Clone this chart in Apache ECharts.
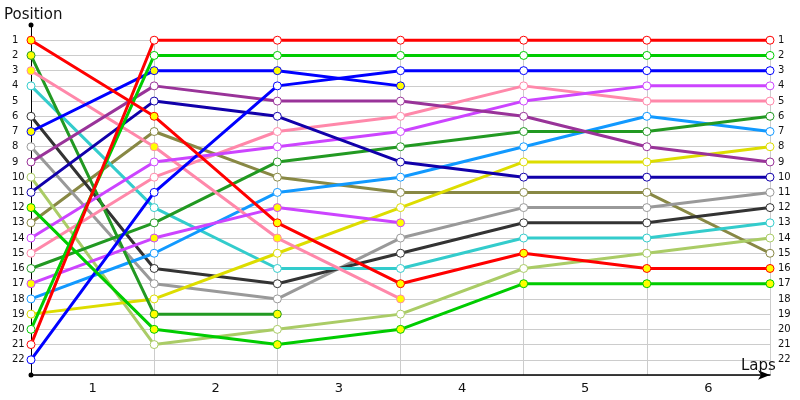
<!DOCTYPE html>
<html>
<head>
<meta charset="utf-8">
<script src="https://cdn.jsdelivr.net/npm/echarts@6/dist/echarts.min.js"></script>
<style>html,body{margin:0;padding:0;background:#fff}#c{width:800px;height:400px}</style>
</head>
<body>
<div id="c"></div>
<script>
// Lap labels (category bands) and position tick labels
const lapLabels = ['1', '2', '3', '4', '5', '6'];
const positionTicks = ['1','2','3','4','5','6','7','8','9','10','11','12','13','14','15','16','17','18','19','20','21','22'];

// Position of each car at lap 0..6 (index = lap)
const redA      = [1, 6, 13, 17, 15, 16, 16];
const redB      = [21, 1, 1, 1, 1, 1, 1];
const greenA    = [20, 2, 2, 2, 2, 2, 2];
const greenB    = [12, 20, 21, 20, 17, 17, 17];
const blueA     = [7, 3, 3, 4];
const blueB     = [22, 11, 4, 3, 3, 3, 3];
const navy      = [11, 5, 6, 9, 10, 10, 10];
const purple    = [9, 4, 5, 5, 6, 8, 9];
const violetA   = [14, 9, 8, 7, 5, 4, 4];
const violetB   = [17, 14, 12, 13];
const pinkA     = [3, 8, 14, 18];
const pinkB     = [15, 10, 7, 6, 4, 5, 5];
const forestA   = [2, 19, 19];
const forestB   = [16, 13, 9, 8, 7, 7, 6];
const lightBlue = [18, 15, 11, 10, 8, 6, 7];
const turquoise = [4, 12, 16, 16, 14, 14, 13];
const yellow    = [19, 18, 15, 12, 9, 9, 8];
const olive     = [13, 7, 10, 11, 11, 11, 15];
const gray      = [8, 17, 18, 14, 12, 12, 11];
const darkGray  = [6, 16, 17, 15, 13, 13, 12];
const lightOlive= [10, 21, 20, 19, 16, 15, 14];

const cars = [
  {d: olive, c: '#888844', f: false},
  {d: lightOlive, c: '#aacc66', f: false},
  {d: gray, c: '#999999', f: false},
  {d: darkGray, c: '#333333', f: false},
  {d: turquoise, c: '#33cccc', f: false},
  {d: yellow, c: '#dddd00', f: false},
  {d: lightBlue, c: '#1199ff', f: false},
  {d: forestA, c: '#229922', f: true},
  {d: forestB, c: '#229922', f: false},
  {d: pinkA, c: '#ff88aa', f: true},
  {d: pinkB, c: '#ff88aa', f: false},
  {d: violetA, c: '#cc44ff', f: false},
  {d: violetB, c: '#cc44ff', f: true},
  {d: purple, c: '#993399', f: false},
  {d: navy, c: '#1100aa', f: false},
  {d: blueA, c: '#0000ff', f: true},
  {d: blueB, c: '#0000ff', f: false},
  {d: greenA, c: '#00cc00', f: false},
  {d: greenB, c: '#00cc00', f: true},
  {d: redA, c: '#ff0000', f: true},
  {d: redB, c: '#ff0000', f: false}
];

const FONT = 'DejaVu Sans';
const series = cars.map(car => ({
  type: 'line',
  xAxisIndex: 0,
  yAxisIndex: 0,
  data: car.d.map((p, i) => [i, p]),
  symbol: 'circle',
  symbolSize: 8,
  showSymbol: true,
  lineStyle: {color: car.c, width: 3},
  itemStyle: {color: car.f ? '#ffff00' : '#ffffff', borderColor: car.c, borderWidth: 1},
  emphasis: {disabled: true},
  z: 3
}));

const chart = echarts.init(document.getElementById('c'), null, {renderer: 'canvas'});
chart.setOption({
  animation: false,
  backgroundColor: '#ffffff',
  textStyle: {fontFamily: FONT},
  title: [
    {text: 'Position', left: 4, top: 8, padding: 0, textStyle: {fontFamily: FONT, fontSize: 15, fontWeight: 'normal', color: '#111'}},
    {text: 'Laps', left: 741, top: 359, padding: 0, textStyle: {fontFamily: FONT, fontSize: 15, fontWeight: 'normal', color: '#111'}}
  ],
  grid: [
    {left: 31, right: 30, top: 25, bottom: 25},
    {left: 31, right: 30, top: 40.2, bottom: 25}
  ],
  xAxis: [
    {type: 'value', gridIndex: 0, min: 0, max: 6, interval: 1, show: false},
    {type: 'category', gridIndex: 0, position: 'bottom', data: lapLabels, boundaryGap: true,
     axisLine: {show: true, onZero: false, lineStyle: {color: '#000', width: 1.5}, symbol: ['none', 'arrow'], symbolSize: [7, 12]},
     axisTick: {show: false},
     axisLabel: {color: '#111', fontSize: 13, fontFamily: FONT, margin: 7},
     splitLine: {show: false}},
    {type: 'value', gridIndex: 1, min: 0, max: 6, interval: 1,
     axisLine: {show: false}, axisTick: {show: false}, axisLabel: {show: false},
     splitLine: {show: true, lineStyle: {color: '#cccccc', width: 1}}}
  ],
  yAxis: [
    {type: 'value', gridIndex: 0, inverse: true, min: 0, max: 23, interval: 1, position: 'left',
     axisLine: {show: true, onZero: false, lineStyle: {color: '#000', width: 1}, symbol: ['circle', 'circle'], symbolSize: [5, 5]},
     axisTick: {show: false},
     axisLabel: {color: '#111', fontSize: 10, fontFamily: FONT, align: 'left', margin: 19,
       formatter: v => positionTicks[v - 1] || ''},
     splitLine: {show: false}},
    {type: 'value', gridIndex: 0, inverse: true, min: 0, max: 23, interval: 1, position: 'right',
     axisLine: {show: false}, axisTick: {show: false},
     axisLabel: {color: '#111', fontSize: 10, fontFamily: FONT, align: 'left', margin: 8,
       formatter: v => positionTicks[v - 1] || ''},
     splitLine: {show: false}},
    {type: 'value', gridIndex: 1, inverse: true, min: 1, max: 23, interval: 1,
     axisLine: {show: false}, axisTick: {show: false}, axisLabel: {show: false},
     splitLine: {show: true, lineStyle: {color: '#cccccc', width: 1}}}
  ],
  series: series
});
</script>
</body>
</html>
